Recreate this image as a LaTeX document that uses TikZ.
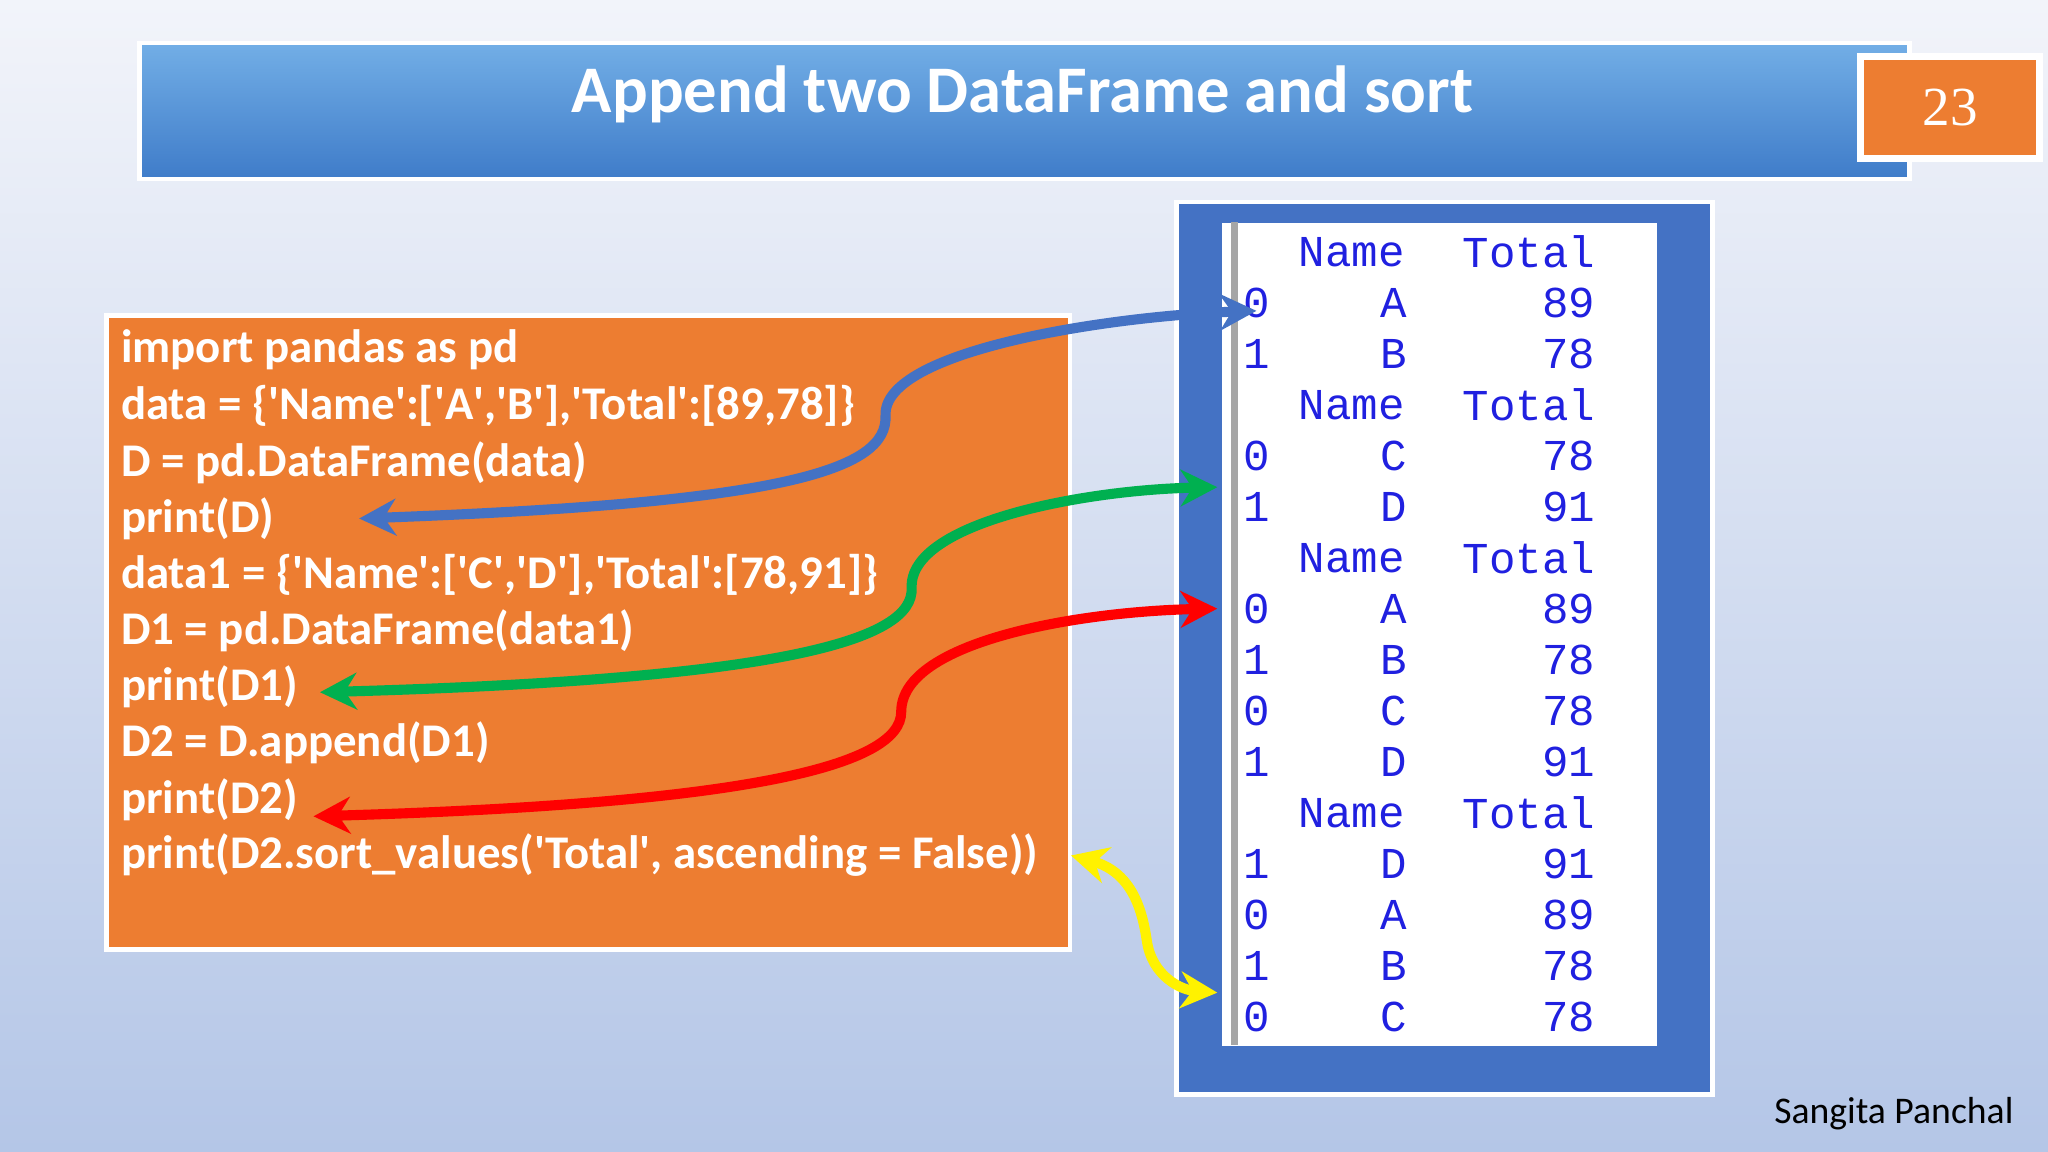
\documentclass[tikz,border=0pt]{standalone}
\usepackage{fontspec}
\setmainfont{Carlito}
\newfontfamily\monofont{Liberation Mono}
\newfontfamily\numfont{Liberation Serif}
\usetikzlibrary{positioning, arrows.meta}
\definecolor{slideorange}{HTML}{ED7D31}
\definecolor{panelblue}{HTML}{4472C4}
\definecolor{codeblue}{HTML}{2020E0}
\definecolor{arrowgreen}{HTML}{00B050}
\definecolor{arrowblue}{HTML}{4472C4}
\definecolor{bgtop}{HTML}{F2F4FA}
\definecolor{bgbottom}{HTML}{B4C6E7}
\definecolor{bartop}{HTML}{72AEE6}
\definecolor{barbottom}{HTML}{3F7CC9}
\newcommand{\q}{\textquotesingle}

\begin{document}
\begin{tikzpicture}
[
    x = 0.01cm, y = -0.01cm,
    codeline/.style = {anchor = west, text = white, font = \fontsize{10.2}{12}\selectfont\bfseries, inner sep = 0pt},
    cell/.style = {text = codeblue, font = \fontsize{9.6}{11}\monofont, inner sep = 0pt},
    link/.style = {line width = 2.2pt, {Stealth[length=8pt,width=8pt]}-{Stealth[length=8pt,width=8pt]}}
  ]

  % background
  \shade[top color = bgtop, bottom color = bgbottom] (0,0) rectangle (1568,882);
  \useasboundingbox (0,0) rectangle (1568,882);

  % title bar
  \shade[top color = bartop, bottom color = barbottom, draw = white, line width = 1pt]
    (107,33) rectangle (1462,137);
  \node[text = white, font = \fontsize{14.5}{16}\selectfont\bfseries] (title) at (783,72) {Append two DataFrame and sort};
  \node[draw = white, line width = 1.5pt, fill = slideorange, minimum width = 1.37cm, minimum height = 0.78cm,
        text = white, font = \fontsize{12}{14}\numfont] (page) at (1493,82) {23};

  % code box
  \node[draw = white, line width = 1pt, fill = slideorange, anchor = north west,
        minimum width = 7.37cm, minimum height = 4.85cm] (code) at (80,240) {};
  \node[codeline] (c1) at (92,268) {import pandas as pd};
  \node[codeline] (c2) at (92,311) {data = \{\q Name\q:[\q A\q,\q B\q],\q Total\q:[89,78]\}};
  \node[codeline] (c3) at (92,354) {D = pd.DataFrame(data)};
  \node[codeline] (c4) at (92,397) {print(D)};
  \node[codeline] (c5) at (92,440) {data1 = \{\q Name\q:[\q C\q,\q D\q],\q Total\q:[78,91]\}};
  \node[codeline] (c6) at (92,483) {D1 = pd.DataFrame(data1)};
  \node[codeline] (c7) at (92,526) {print(D1)};
  \node[codeline] (c8) at (92,569) {D2 = D.append(D1)};
  \node[codeline] (c9) at (92,612) {print(D2)};
  \node[codeline] (c10) at (92,655) {print(D2.sort\_values(\q Total\q, ascending = False))};

  % output panel
  \node[draw = white, line width = 1pt, fill = panelblue, anchor = north west,
        minimum width = 4.10cm, minimum height = 6.83cm] (panel) at (899,153) {};
  \node[fill = white, anchor = north west, inner sep = 0pt,
        minimum width = 3.33cm, minimum height = 6.30cm] (screen) at (935,170) {};
  \draw[gray!70, line width = 1.5pt] (945,170) -- (945,800);

  \def\hrow{h}
  \foreach \row/\idx/\nm/\tot [count = \k from 0] in
    {h/ / /,0/0/A/89,1/1/B/78,h/ / /,0/0/C/78,1/1/D/91,h/ / /,0/0/A/89,1/1/B/78,
     0/0/C/78,1/1/D/91,h/ / /,1/1/D/91,0/0/A/89,1/1/B/78,0/0/C/78}
  {
    \pgfmathsetmacro{\ypos}{193+39.05*\k}
    \ifx\row\hrow
      \node[cell] (name\k) at (1035,\ypos) {Name};
      \node[cell, anchor = east] (total\k) at (1222,\ypos) {Total};
    \else
      \node[cell] (idx\k) at (962,\ypos) {\idx};
      \node[cell] (name\k) at (1067,\ypos) {\nm};
      \node[cell, anchor = east] (total\k) at (1222,\ypos) {\tot};
    \fi
  }

  % connectors
  \coordinate (b1) at (275,397);  \coordinate (b2) at (962,238);
  \coordinate (g1) at (245,530);  \coordinate (g2) at (932,373);
  \coordinate (r1) at (240,625);  \coordinate (r2) at (932,466);
  \coordinate (y1) at (820,655);  \coordinate (y2) at (932,760);
  \draw[link, arrowblue] (b1) .. controls (600,385) and (680,360) .. (678,318)
                              .. controls (676,268) and (850,242) .. (b2);
  \draw[link, arrowgreen] (g1) .. controls (600,520) and (700,490) .. (698,450)
                               .. controls (696,400) and (830,375) .. (g2);
  \draw[link, red] (r1) .. controls (580,615) and (690,585) .. (690,545)
                        .. controls (690,490) and (830,468) .. (r2);
  \draw[link, yellow] (y1) .. controls (868,668) and (875,700) .. (878,720)
                           .. controls (882,748) and (905,758) .. (y2);

  \node[font = \fontsize{8.2}{10}\selectfont] (author) at (1450,853) {Sangita Panchal};
\end{tikzpicture}
\end{document}
